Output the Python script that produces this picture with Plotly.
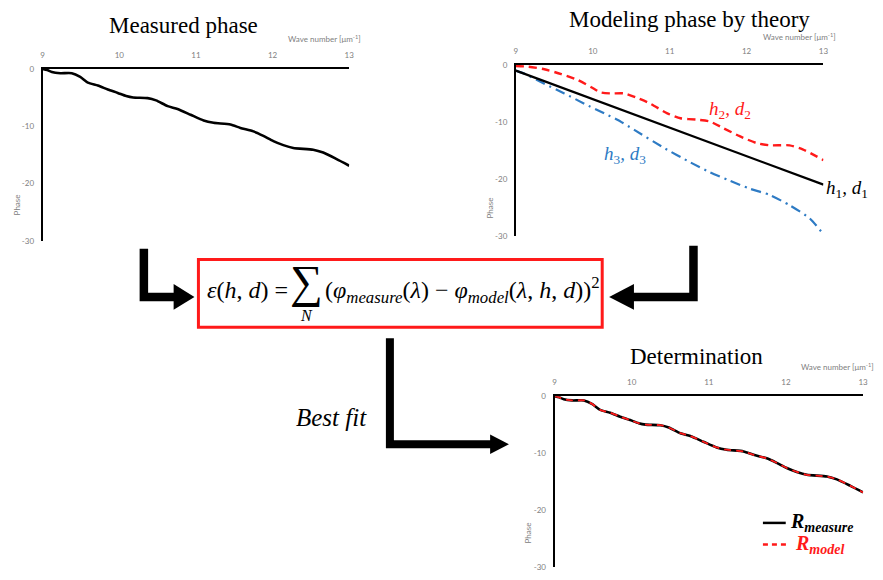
import plotly.graph_objects as go

# ---- data -------------------------------------------------------------
# measured phase vs wave number (also used for the fitted model curve)
wave_measured = [9.00, 9.06, 9.12, 9.23, 9.38, 9.49, 9.59, 9.72, 9.85, 9.98, 10.09,
                 10.18, 10.37, 10.48, 10.63, 10.76, 10.93, 11.10, 11.23, 11.45, 11.58,
                 11.75, 11.88, 12.01, 12.14, 12.27, 12.53, 12.66, 12.83, 13.00]
phase_measured = [0.0, -0.2, -0.55, -0.75, -0.75, -1.4, -2.4, -2.9, -3.6, -4.2, -4.75,
                  -5.0, -5.1, -5.5, -6.5, -7.0, -8.0, -9.0, -9.4, -9.7, -10.3,
                  -10.9, -11.7, -12.6, -13.3, -13.8, -14.1, -14.6, -15.7, -16.9]
phase_best_fit = list(phase_measured)

# theoretical phase for three (h, d) parameter sets
wave_h1 = [9.0, 13.0]
phase_h1 = [-1.0, -21.0]

wave_h2 = [9.0, 9.16, 9.37, 9.59, 9.80, 9.98, 10.10, 10.23, 10.41, 10.58, 10.75,
           10.97, 11.14, 11.35, 11.52, 11.70, 11.91, 12.13, 12.30, 12.56, 12.73, 13.0]
phase_h2 = [-0.2, -0.3, -0.75, -1.6, -2.6, -3.9, -4.8, -5.0, -5.0, -5.8, -6.8,
            -8.5, -9.35, -9.6, -9.9, -11.1, -12.5, -13.7, -14.1, -14.1, -14.8, -16.7]

wave_h3 = [9.0, 9.12, 9.37, 9.63, 9.89, 10.15, 10.32, 10.54, 10.92, 11.27, 11.52,
           11.78, 12.04, 12.30, 12.56, 12.82, 13.0]
phase_h3 = [-1.0, -1.6, -3.3, -5.0, -6.8, -8.5, -9.6, -11.4, -14.5, -17.1, -18.8,
            -20.3, -21.7, -22.8, -24.6, -26.9, -29.7]

x_ticks = [9, 10, 11, 12, 13]
y_ticks = [0, -10, -20, -30]
y_tick_text = ["0", "-10", "-20", "-30"]

# ---- page geometry (pixels) -----------------------------------------
W, H = 883, 580


def px(x):
    return x / W


def py(y):
    return 1 - y / H


SERIF = "Liberation Serif"
SANS = "Lato"
GRAY = "#808080"
RED = "#ff1a1a"
BLUE = "#2e7bc4"

fig = go.Figure()

# panel 1: measured phase
fig.add_trace(go.Scatter(x=wave_measured, y=phase_measured, mode="lines",
                         line=dict(color="black", width=2.6, shape="spline", smoothing=0.6),
                         xaxis="x", yaxis="y", showlegend=False))
# panel 2: modelled phase
fig.add_trace(go.Scatter(x=wave_h2, y=phase_h2, mode="lines",
                         line=dict(color=RED, width=2.4, dash="8px,5px", shape="spline", smoothing=0.6),
                         xaxis="x2", yaxis="y2", showlegend=False))
fig.add_trace(go.Scatter(x=wave_h3, y=phase_h3, mode="lines",
                         line=dict(color=BLUE, width=2.2, dash="10px,5px,2px,5px", shape="spline", smoothing=0.6),
                         xaxis="x2", yaxis="y2", showlegend=False))
fig.add_trace(go.Scatter(x=wave_h1, y=phase_h1, mode="lines",
                         line=dict(color="black", width=2.2),
                         xaxis="x2", yaxis="y2", showlegend=False))
# panel 3: measured vs best-fit model
fig.add_trace(go.Scatter(x=wave_measured, y=phase_measured, mode="lines",
                         line=dict(color="black", width=2.6, shape="spline", smoothing=0.6),
                         xaxis="x3", yaxis="y3", showlegend=False))
fig.add_trace(go.Scatter(x=wave_measured, y=phase_best_fit, mode="lines",
                         line=dict(color=RED, width=1.8, dash="7px,5px", shape="spline", smoothing=0.6),
                         xaxis="x3", yaxis="y3", showlegend=False))

panels = {
    "": dict(x=(41, 350), y=(65, 240)),
    "2": dict(x=(518, 828), y=(61, 235)),
    "3": dict(x=(557, 868), y=(398, 572)),
}

axis_font = dict(family=SANS, size=8, color=GRAY)
for k, p in panels.items():
    fig.layout["xaxis" + k] = dict(
        domain=[px(p["x"][0]), px(p["x"][1])], range=[9, 13], side="top",
        anchor="y" + k, showline=True, linecolor="black", linewidth=2,
        showgrid=False, zeroline=False, ticks="", tickvals=x_ticks,
        tickfont=axis_font, ticklabelstandoff=6, fixedrange=True)
    fig.layout["yaxis" + k] = dict(
        domain=[py(p["y"][1]), py(p["y"][0])], range=[-30, 0],
        anchor="x" + k, showline=True, linecolor="black", linewidth=2,
        showgrid=False, zeroline=False, ticks="", tickvals=y_ticks,
        ticktext=y_tick_text, tickfont=axis_font, ticklabelstandoff=5,
        fixedrange=True)

ann = []


def text(x, y, s, size, color="black", family=SERIF, xanchor="center",
         yanchor="middle", angle=0):
    ann.append(dict(x=px(x), y=py(y), xref="paper", yref="paper", text=s,
                    showarrow=False, xanchor=xanchor, yanchor=yanchor,
                    textangle=angle, font=dict(family=family, size=size, color=color)))


# panel titles
text(183, 21, "Measured phase", 23)
text(693, 15, "Modeling phase by theory", 23)
text(700, 358, "Determination", 23)

# axis titles
wave_lbl = "Wave number [μm<sup>-1</sup>]"
text(364, 34, wave_lbl, 8, GRAY, SANS, xanchor="right")
text(843, 32, wave_lbl, 8, GRAY, SANS, xanchor="right")
text(881, 368, wave_lbl, 8, GRAY, SANS, xanchor="right")
text(15, 203, "Phase", 8, GRAY, SANS, angle=-90)
text(492, 207, "Phase", 8, GRAY, SANS, angle=-90)
text(530, 537, "Phase", 8, GRAY, SANS, angle=-90)

# curve labels in the modelling panel
text(829, 187, "<i>h</i><sub>1</sub><i>, d</i><sub>1</sub>", 19, "black", xanchor="left")
text(711, 107, "<i>h</i><sub>2</sub><i>, d</i><sub>2</sub>", 19, RED, xanchor="left")
text(605, 153, "<i>h</i><sub>3</sub><i>, d</i><sub>3</sub>", 19, BLUE, xanchor="left")

# error function
text(205, 290, "<i>ε</i>(<i>h</i>, <i>d</i>) =", 24, xanchor="left")
text(307, 281, "∑", 46)
text(307, 316, "<i>N</i>", 16)
text(324, 290, "(<i>φ</i><sub><i>measure</i></sub>(<i>λ</i>) − <i>φ</i><sub><i>model</i></sub>"
               "(<i>λ</i>, <i>h</i>, <i>d</i>))<sup>2</sup>", 24, xanchor="left")

# best-fit caption
text(332, 420, "<i>Best fit</i>", 25)

# manual legend for the determination panel
text(792, 527, "<b><i>R<sub>measure</sub></i></b>", 20, "black", xanchor="left")
text(797, 549, "<b><i>R<sub>model</sub></i></b>", 20, RED, xanchor="left")

shapes = []


def seg(x0, y0, x1, y1, color="black", width=2.5, dash="solid"):
    shapes.append(dict(type="line", xref="paper", yref="paper",
                       x0=px(x0), y0=py(y0), x1=px(x1), y1=py(y1),
                       line=dict(color=color, width=width, dash=dash)))


def path(points, width=8):
    d = "M " + " L ".join(f"{px(a):.5f},{py(b):.5f}" for a, b in points)
    shapes.append(dict(type="path", xref="paper", yref="paper", path=d,
                       line=dict(color="black", width=width)))


def head(tip, base_x, half):
    tx, ty = tip
    d = (f"M {px(tx):.5f},{py(ty):.5f} L {px(base_x):.5f},{py(ty - half):.5f} "
         f"L {px(base_x):.5f},{py(ty + half):.5f} Z")
    shapes.append(dict(type="path", xref="paper", yref="paper", path=d,
                       fillcolor="black", line=dict(color="black", width=0)))


seg(767, 527, 790, 527, "black", 2.5)
seg(767, 549, 792, 549, RED, 2.5, "5px,4px")

# formula box
shapes.append(dict(type="rect", xref="paper", yref="paper",
                   x0=px(198), x1=px(605), y0=py(328), y1=py(259),
                   line=dict(color=RED, width=3)))

# flow arrows
path([(143, 248), (143, 297), (176, 297)], 8.5)
head((194, 297), 173, 13)
path([(697, 245), (697, 297), (634, 297)], 8.5)
head((612, 297), 637, 13)
path([(391, 339), (391, 447), (494, 447)], 8)
head((511, 447), 492, 10)

fig.update_layout(width=W, height=H, margin=dict(l=0, r=0, t=0, b=0),
                  paper_bgcolor="white", plot_bgcolor="white",
                  annotations=ann, shapes=shapes)

fig.write_html("out.html")
